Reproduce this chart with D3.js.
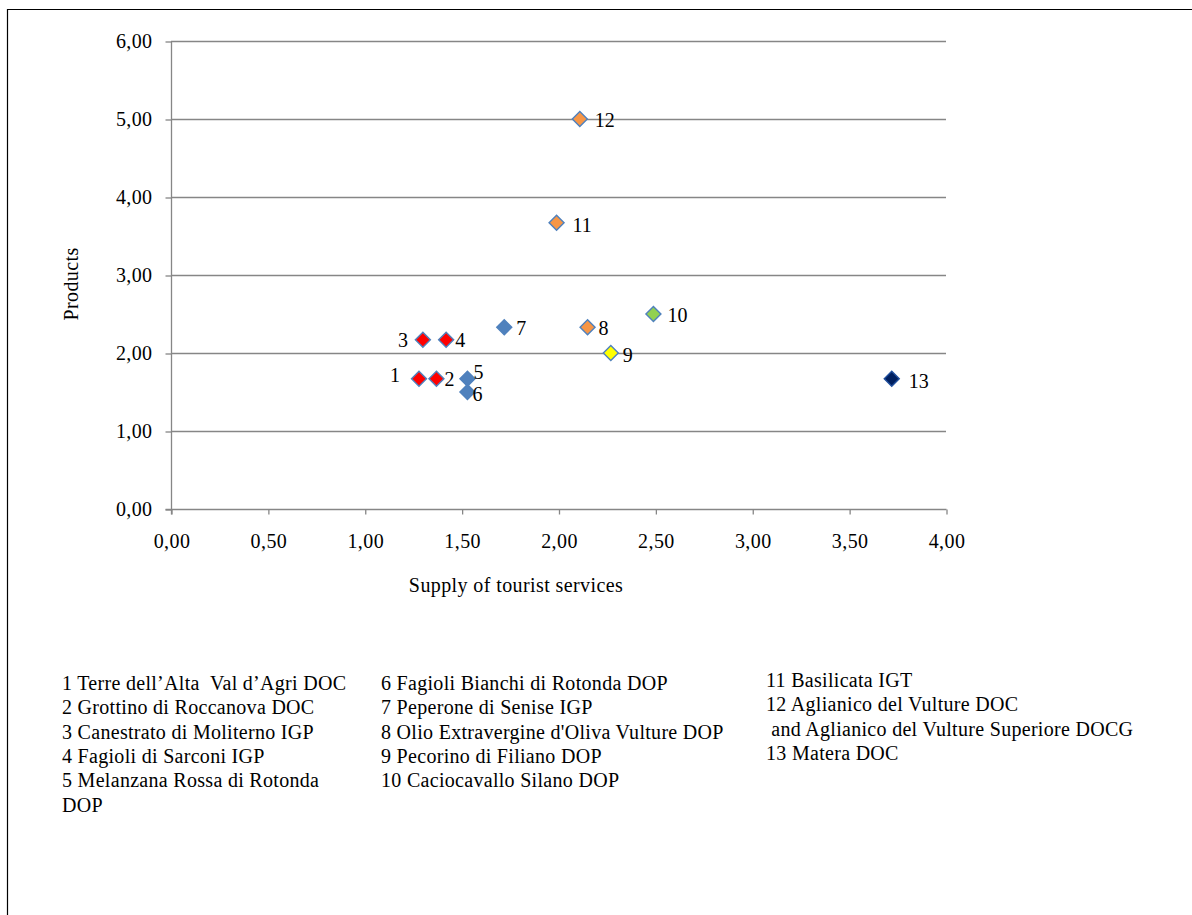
<!DOCTYPE html>
<html>
<head>
<meta charset="utf-8">
<script src="https://cdn.jsdelivr.net/npm/d3@7"></script>
<style>
  html, body { margin: 0; padding: 0; background: #fff; }
  svg { display: block; font-family: "Liberation Serif", "Times New Roman", serif; }
</style>
</head>
<body>
<svg id="chart" width="1192" height="915"></svg>
<script>
// ---- data ----
const ids = [1, 2, 3, 4, 5, 6, 7, 8, 9, 10, 11, 12, 13];
const tourism = [1.28, 1.37, 1.30, 1.42, 1.53, 1.53, 1.72, 2.15, 2.27, 2.49, 1.99, 2.11, 3.72];
const products = [1.67, 1.67, 2.17, 2.17, 1.67, 1.50, 2.33, 2.33, 2.00, 2.50, 3.67, 5.00, 1.67];
const groups = ["red", "red", "red", "red", "blue", "blue", "blue", "orange", "yellow", "green", "orange", "orange", "navy"];
const xTicks = [0, 0.5, 1, 1.5, 2, 2.5, 3, 3.5, 4];
const yTicks = [0, 1, 2, 3, 4, 5, 6];
const legendCol1 = ["1 Terre dell\u2019Alta  Val d\u2019Agri DOC", "2 Grottino di Roccanova DOC", "3 Canestrato di Moliterno IGP", "4 Fagioli di Sarconi IGP", "5 Melanzana Rossa di Rotonda", "DOP"];
const legendCol2 = ["6 Fagioli Bianchi di Rotonda DOP", "7 Peperone di Senise IGP", "8 Olio Extravergine d'Oliva Vulture DOP", "9 Pecorino di Filiano DOP", "10 Caciocavallo Silano DOP"];
const legendCol3 = ["11 Basilicata IGT", "12 Aglianico del Vulture DOC", " and Aglianico del Vulture Superiore DOCG", "13 Matera DOC"];
const xTitle = "Supply of tourist services";
const yTitle = "Products";

// ---- styling / layout ----
const fillColors = { red: "#ff0000", blue: "#4f81bd", orange: "#f79646", yellow: "#ffff00", green: "#92d050", navy: "#002060" };
const strokeColors = { red: "#4f81bd", blue: "#4f81bd", orange: "#4f81bd", yellow: "#4f81bd", green: "#4f81bd", navy: "#1f4e9c" };
const labelOffsets = [[-19, -4, "end"], [8, 0, "start"], [-15, 0, "end"], [9, 0, "start"], [6, -7, "start"], [5, 2, "start"], [12, 1, "start"], [11, 1, "start"], [12, 2, "start"], [14, 1, "start"], [16, 2, "start"], [15, 1, "start"], [17, 2, "start"]];

const svg = d3.select("#chart");
const FS = 20;
const LS = "0.4px";

svg.append("path").attr("d", "M7.5,915 L7.5,9.5 L1192,9.5").attr("fill", "none").attr("stroke", "#000").attr("stroke-width", 1.2);

const x = d3.scaleLinear().domain([0, 4]).range([171, 946]);
const y = d3.scaleLinear().domain([0, 6]).range([509, 41]);
const fmt = v => d3.format(".2f")(v).replace(".", ",");

svg.append("g").selectAll("line").data(yTicks.filter(d => d > 0)).join("line")
  .attr("x1", x(0)).attr("x2", x(4))
  .attr("y1", d => Math.round(y(d)) + 0.5).attr("y2", d => Math.round(y(d)) + 0.5)
  .attr("stroke", "#868686").attr("stroke-width", 1.3);

const yAxis = svg.append("g").attr("transform", `translate(${x(0) + 0.5},0.5)`)
  .call(d3.axisLeft(y).tickValues(yTicks).tickFormat(fmt).tickSizeInner(6).tickSizeOuter(0).tickPadding(13));
const xAxis = svg.append("g").attr("transform", `translate(0.5,${y(0) + 0.5})`)
  .call(d3.axisBottom(x).tickValues(xTicks).tickFormat(fmt).tickSizeInner(5).tickSizeOuter(0).tickPadding(19));
[yAxis, xAxis].forEach(a => {
  a.selectAll("path, line").attr("stroke", "#868686").attr("stroke-width", 1.3);
  a.selectAll("text").attr("font-size", FS).attr("fill", "#000").style("font-family", "Liberation Serif").style("letter-spacing", LS);
});
yAxis.select(".domain").attr("d", `M0,${y(6)}V${y(0) + 5}`);
xAxis.select(".domain").attr("d", `M${x(0) - 6},0H${x(4)}`);

svg.append("text").attr("x", 516).attr("y", 592).attr("text-anchor", "middle").attr("font-size", FS).style("letter-spacing", LS).text(xTitle);
svg.append("text").attr("transform", "translate(78,284) rotate(-90)").attr("text-anchor", "middle").attr("font-size", FS).style("letter-spacing", LS).text(yTitle);

const pts = ids.map((id, i) => ({ id, x: tourism[i], y: products[i], g: groups[i], off: labelOffsets[i] }));
svg.append("g").selectAll("path").data(pts).join("path")
  .attr("transform", d => `translate(${x(d.x)},${y(d.y)}) rotate(45)`)
  .attr("d", d3.symbol().type(d3.symbolSquare).size(10.6 * 10.6))
  .attr("fill", d => fillColors[d.g])
  .attr("stroke", d => strokeColors[d.g]).attr("stroke-width", 1.4);

svg.append("g").selectAll("text").data(pts).join("text")
  .attr("x", d => x(d.x) + d.off[0])
  .attr("y", d => y(d.y) + d.off[1])
  .attr("dy", "0.35em")
  .attr("text-anchor", d => d.off[2])
  .attr("font-size", FS).text(d => d.id);

const cols = [[legendCol1, 62, 690], [legendCol2, 381, 690], [legendCol3, 766, 687]];
cols.forEach(([lines, lx, ly]) => {
  svg.append("g").selectAll("text").data(lines).join("text")
    .attr("x", lx).attr("y", (d, i) => ly + i * 24.3)
    .attr("font-size", FS).style("letter-spacing", "0.3px").style("white-space", "pre")
    .text(d => d);
});
</script>
</body>
</html>
